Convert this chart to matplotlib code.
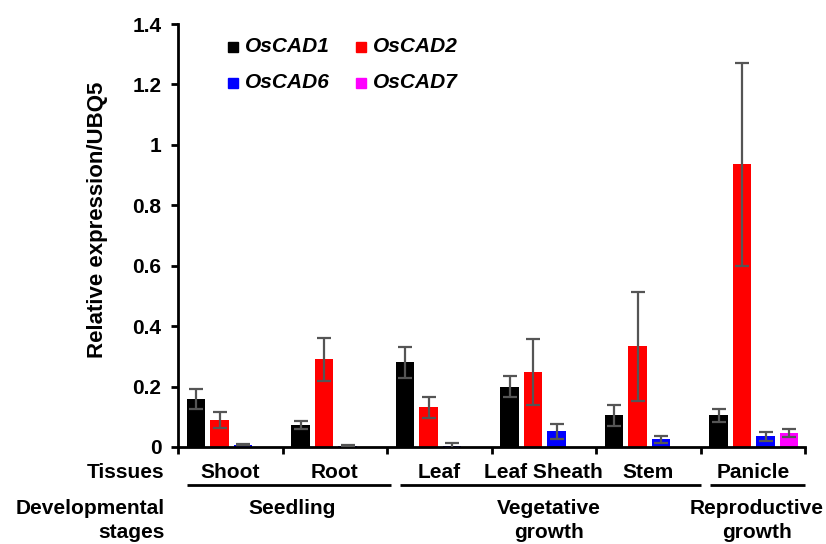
import matplotlib.pyplot as plt
import matplotlib.transforms as mtransforms
import numpy as np

plt.rcParams['font.family'] = ['Liberation Sans', 'DejaVu Sans']

tissues = ['Shoot', 'Root', 'Leaf', 'Leaf Sheath', 'Stem', 'Panicle']
genes = ['OsCAD1', 'OsCAD2', 'OsCAD6', 'OsCAD7']
colors = ['#000000', '#ff0000', '#0000ff', '#ff00ff']

cad1 = [0.159, 0.073, 0.280, 0.200, 0.105, 0.105]
cad2 = [0.089, 0.290, 0.132, 0.248, 0.333, 0.935]
cad6 = [0.008, 0.004, 0.002, 0.052, 0.025, 0.035]
cad7 = [0.0, 0.0, 0.0, 0.0, 0.0, 0.047]

cad1_err = [0.033, 0.013, 0.050, 0.035, 0.035, 0.022]
cad2_err = [0.026, 0.072, 0.035, 0.110, 0.180, 0.335]
cad6_err = [0.002, 0.002, 0.010, 0.025, 0.013, 0.015]
cad7_err = [0.0, 0.0, 0.0, 0.0, 0.0, 0.013]

stages = [('Seedling',), ('Vegetative', 'growth'), ('Reproductive', 'growth')]
stage_spans = [(0.086, 2.04), (2.12, 5.0), (5.09, 6.0)]
stage_centers = [1.09, 3.55, 5.54]

values = [cad1, cad2, cad6, cad7]
errors = [cad1_err, cad2_err, cad6_err, cad7_err]

fig = plt.figure(figsize=(8.26, 5.44), dpi=100)
ax = fig.add_axes([178 / 826, 1 - 447 / 544, 627 / 826, 423 / 544])

x = np.arange(len(tissues)) + 0.5
slot = 0.225
for k, (vals, errs, c) in enumerate(zip(values, errors, colors)):
    pos = x + (k - 1.5) * slot + 0.01
    ax.bar(pos, vals, width=0.18, color=c, zorder=2)
    # no error bar drawn where there is no measurement
    has = np.array(errs) > 0
    ax.errorbar(pos[has], np.array(vals)[has], yerr=np.array(errs)[has],
                fmt='none', ecolor='#555555',
                elinewidth=1.6, capsize=5, capthick=1.6, zorder=3)

ax.set_xlim(0, 6)
ax.set_ylim(0, 1.4)
ax.set_yticks(np.arange(0, 1.41, 0.2))
ax.set_yticklabels(['0', '0.2', '0.4', '0.6', '0.8', '1', '1.2', '1.4'],
                   fontsize=15, fontweight='bold')
ax.set_xticks(np.arange(0, 7))
ax.set_xticklabels([])
ax.tick_params(axis='both', direction='out', width=2, length=5, pad=7)
ax.spines['top'].set_visible(False)
ax.spines['right'].set_visible(False)
ax.spines['left'].set_linewidth(2)
ax.spines['bottom'].set_linewidth(2)
ax.set_ylabel('Relative expression/UBQ5', fontsize=16, fontweight='bold')
ax.yaxis.set_label_coords(-0.112, 0.537)

tr = mtransforms.blended_transform_factory(ax.transData, fig.transFigure)
fy = lambda py: 1 - py / 544
fs = 15

ax.text(-0.13, fy(472), 'Tissues', transform=tr, ha='right', va='center',
        fontsize=fs, fontweight='bold')
for xi, t in zip(x, tissues):
    ax.text(xi, fy(472), t, transform=tr, ha='center', va='center',
            fontsize=fs, fontweight='bold')
for a, b in stage_spans:
    ax.plot([a, b], [fy(485), fy(485)], transform=tr, color='black', lw=2,
            clip_on=False, solid_capstyle='butt')
ax.text(-0.13, fy(509), 'Developmental', transform=tr, ha='right', va='center',
        fontsize=fs, fontweight='bold')
ax.text(-0.13, fy(532), 'stages', transform=tr, ha='right', va='center',
        fontsize=fs, fontweight='bold')
for xc, lines in zip(stage_centers, stages):
    for i, s in enumerate(lines):
        ax.text(xc, fy(509 + 23 * i), s, transform=tr, ha='center', va='center',
                fontsize=fs, fontweight='bold')

# legend, placed manually in two rows
leg_pos = [(228, 47), (356, 47), (228, 83), (356, 83)]
for (px, py), g, c in zip(leg_pos, genes, colors):
    fig.patches.append(plt.Rectangle((px / 826, fy(py) - 0.0095), 0.0125, 0.019,
                                     transform=fig.transFigure, color=c))
    fig.text((px + 17) / 826, fy(py), g, ha='left', va='center', fontsize=15,
             fontweight='bold', fontstyle='italic')

fig.savefig('out.png', dpi=100)
